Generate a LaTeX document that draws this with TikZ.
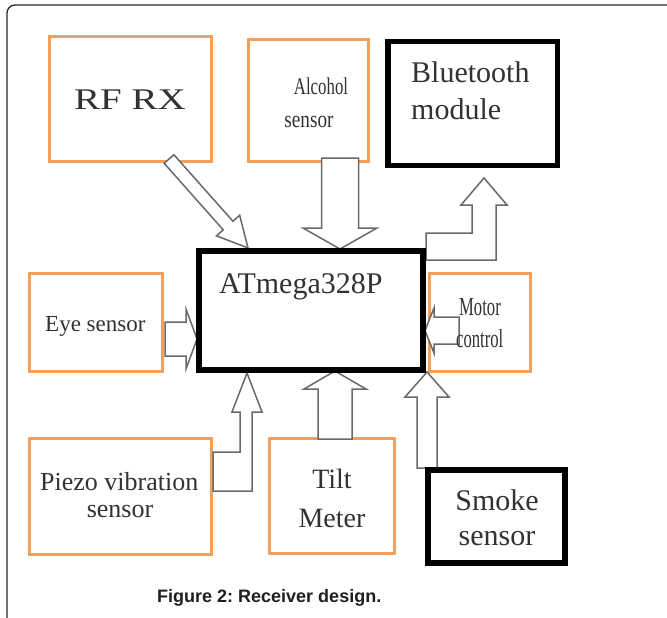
\documentclass[tikz,border=0pt]{standalone}
\usepackage{fontspec}
\setmainfont{Liberation Serif}
\newfontfamily\capfont{Liberation Sans}
\usetikzlibrary{calc}
\frenchspacing
\definecolor{boxorange}{RGB}{242,160,92}
\definecolor{arrgray}{RGB}{105,105,105}
\definecolor{txtgray}{RGB}{50,50,50}
\definecolor{framegray}{RGB}{40,40,40}
\tikzset{
  obox/.style={draw=boxorange, line width=3pt, rectangle, inner sep=0pt},
  kbox/.style={draw=black, line width=6pt, rectangle, inner sep=0pt},
  blockarrow/.style={draw=arrgray, fill=white, line width=1.5pt, line join=miter},
  lbl/.style={text=txtgray, inner sep=0pt},
}
\newcommand\blockarr[5]{%
  \path ($(#2)!#5!(#1)$) coordinate (#2hb);
  \draw[blockarrow] ($(#1)!#3!90:(#2)$) -- ($(#2hb)!#3!90:(#2)$) -- ($(#2hb)!#4!90:(#2)$) -- (#2)
    -- ($(#2hb)!#4!-90:(#2)$) -- ($(#2hb)!#3!-90:(#2)$) -- ($(#1)!#3!-90:(#2)$) -- cycle;}
\begin{document}
\begin{tikzpicture}[x=1pt,y=-1pt]
\useasboundingbox (0,0) rectangle (667,618);
\fill[white] (0,0) rectangle (667,618);
% frame
\draw[framegray, line width=1.3pt, rounded corners=8pt] (7,618) -- (7,5) -- (667,5);

% orange boxes
\node[obox, minimum width=162pt, minimum height=125pt] (rf) at (130.5,99) {};
\node[obox, minimum width=120pt, minimum height=122pt] (alc) at (308.5,100.5) {};
\node[obox, minimum width=133pt, minimum height=98pt] (eye) at (96,322.5) {};
\node[obox, minimum width=101pt, minimum height=98pt] (mot) at (480,322.5) {};
\node[obox, minimum width=182pt, minimum height=116pt] (pz) at (120.5,496.5) {};
\node[obox, minimum width=125pt, minimum height=115pt] (tilt) at (332,496) {};

% arrow end points
\coordinate (rftail) at (169,159);
\coordinate (rftip) at (248,248);
\coordinate (alctail) at (340,158);
\coordinate (alctip) at (340,249);
\coordinate (eyetail) at (165,339);
\coordinate (eyetip) at (197,339);
\coordinate (mottail) at (459,330.5);
\coordinate (mottip) at (425,330.5);
\coordinate (tilttail) at (335,439);
\coordinate (tilttip) at (335,371);
\coordinate (smtail) at (427,468);
\coordinate (smtip) at (427,372);

% block arrows
\blockarr{rftail}{rftip}{6.5pt}{15.5pt}{30pt}
\blockarr{alctail}{alctip}{18.5pt}{37pt}{21pt}
\blockarr{eyetail}{eyetip}{17pt}{30pt}{11pt}
\blockarr{mottail}{mottip}{13.5pt}{22.5pt}{9pt}
\blockarr{tilttail}{tilttip}{17pt}{31pt}{18pt}
\blockarr{smtail}{smtip}{10pt}{22pt}{25pt}
% elbow arrow to Bluetooth
\draw[blockarrow] (426,233) -- (472,233) -- (472,205) -- (461,205) -- (484,178) -- (507,205)
  -- (496,205) -- (496,260) -- (426,260) -- cycle;
% elbow arrow from Piezo
\draw[blockarrow] (247,373) -- (262,412) -- (252,412) -- (252,491) -- (213,491) -- (213,452)
  -- (240,452) -- (240,412) -- (232,412) -- cycle;

% black boxes
\node[kbox, line width=5.5pt, minimum width=169.5pt, minimum height=123.5pt] (bt) at (472.5,103.5) {};
\node[kbox, minimum width=224pt, minimum height=119pt] (atm) at (311,310.5) {};
\node[kbox, minimum width=137pt, minimum height=93pt] (sm) at (496.5,516.5) {};

% labels
\node[lbl, anchor=base, font=\fontsize{30pt}{34pt}\selectfont] (rftxt) at (130,110) {\scalebox{1.3}[1]{RF RX}};
\node[lbl, anchor=base, font=\fontsize{24pt}{28pt}\selectfont] (alctxt1) at (321,95) {\scalebox{0.7}[1]{Alcohol}};
\node[lbl, anchor=base, font=\fontsize{24pt}{28pt}\selectfont] (alctxt2) at (309,127) {\scalebox{0.8}[1]{sensor}};
\node[lbl, anchor=base west, font=\fontsize{30pt}{34pt}\selectfont] (bttxt1) at (411,83) {Bluetooth};
\node[lbl, anchor=base west, font=\fontsize{30pt}{34pt}\selectfont] (bttxt2) at (411,119) {module};
\node[lbl, anchor=base west, font=\fontsize{30pt}{34pt}\selectfont] (atmtxt) at (219,293) {ATmega328P};
\node[lbl, anchor=base west, font=\fontsize{23pt}{27pt}\selectfont] (eyetxt) at (45,331) {Eye sensor};
\node[lbl, anchor=base west, font=\fontsize{26pt}{30pt}\selectfont] (mottxt1) at (459,315) {\scalebox{0.64}[1]{Motor}};
\node[lbl, anchor=base west, font=\fontsize{26pt}{30pt}\selectfont] (mottxt2) at (456,347) {\scalebox{0.64}[1]{control}};
\node[lbl, anchor=base west, font=\fontsize{26pt}{30pt}\selectfont] (pztxt1) at (40,490) {Piezo vibration};
\node[lbl, anchor=base, font=\fontsize{26pt}{30pt}\selectfont] (pztxt2) at (120,517) {sensor};
\node[lbl, anchor=base, font=\fontsize{28pt}{32pt}\selectfont] (tilttxt1) at (332,488) {Tilt};
\node[lbl, anchor=base, font=\fontsize{28pt}{32pt}\selectfont] (tilttxt2) at (332,527) {Meter};
\node[lbl, anchor=base, font=\fontsize{30pt}{34pt}\selectfont] (smtxt1) at (497,510) {Smoke};
\node[lbl, anchor=base, font=\fontsize{30pt}{34pt}\selectfont] (smtxt2) at (497,545) {sensor};

% caption
\node[anchor=base west, inner sep=0pt, text=black!88, font=\capfont\bfseries\fontsize{18pt}{21pt}\selectfont] (cap) at (157,602) {Figure 2: Receiver design.};
\end{tikzpicture}
\end{document}
